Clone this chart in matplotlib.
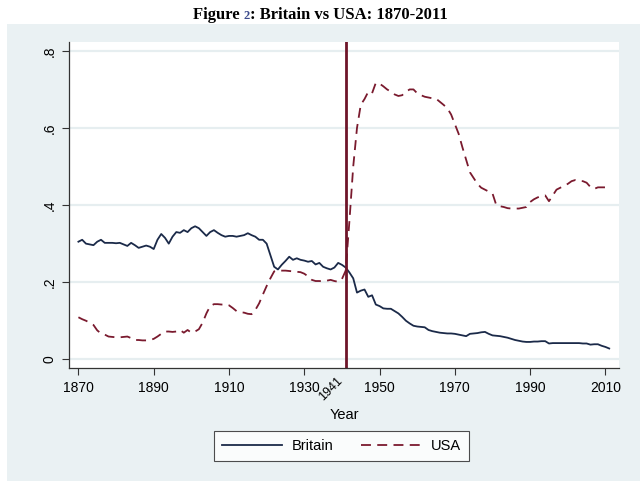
#!/usr/bin/python3
# coding: utf-8
'''
Britain vs USA: 1870-2011, Stata-style line chart with a marker at 1941
'''
import matplotlib
matplotlib.use('Agg')
import matplotlib.pyplot as plt
from matplotlib.patches import Rectangle
from matplotlib.transforms import blended_transform_factory

YEARS = list(range(1870, 2012))

BRITAIN = [
    .305, .310, .300, .298, .296, .305, .310, .302, .302, .302,   # 1870s
    .301, .302, .298, .294, .302, .296, .289, .292, .295, .292,   # 1880s
    .286, .310, .325, .315, .300, .318, .330, .328, .335, .330,   # 1890s
    .340, .345, .340, .330, .320, .330, .335, .328, .322, .318,   # 1900s
    .320, .320, .318, .320, .322, .327, .322, .318, .310, .310,   # 1910s
    .300, .270, .240, .233, .245, .255, .266, .258, .262, .258,   # 1920s
    .256, .253, .255, .246, .250, .240, .236, .233, .238, .250,   # 1930s
    .245, .238, .225, .210, .173, .178, .181, .162, .166, .142,   # 1940s
    .138, .132, .131, .131, .125, .119, .110, .100, .093, .087,   # 1950s
    .085, .084, .083, .076, .073, .071, .069, .068, .067, .067,   # 1960s
    .066, .064, .062, .060, .066, .067, .068, .070, .071, .066,   # 1970s
    .062, .061, .060, .058, .056, .053, .050, .048, .046, .045,   # 1980s
    .045, .046, .046, .047, .047, .041, .042, .042, .042, .042,   # 1990s
    .042, .042, .042, .042, .041, .041, .038, .039, .039, .035,   # 2000s
    .032, .028,                                                   # 2010-11
]

USA = [
    .109, .104, .100, .095, .089, .075, .067, .064, .059, .058,   # 1870s
    .057, .057, .058, .059, .055, .050, .050, .049, .049, .050,   # 1880s
    .053, .059, .066, .072, .072, .071, .072, .076, .069, .076,   # 1890s
    .069, .072, .078, .095, .119, .138, .143, .143, .142, .143,   # 1900s
    .140, .133, .125, .122, .121, .118, .117, .128, .145, .168,   # 1910s
    .190, .210, .228, .231, .230, .230, .229, .228, .227, .226,   # 1920s
    .222, .215, .206, .203, .203, .202, .204, .206, .203, .201,   # 1930s
    .208, .230, .360, .500, .600, .660, .675, .694, .690, .717,   # 1940s
    .715, .708, .700, .694, .687, .683, .685, .694, .700, .700,   # 1950s
    .690, .685, .681, .679, .677, .676, .668, .660, .651, .635,   # 1960s
    .610, .585, .550, .517, .485, .470, .455, .445, .440, .435,   # 1970s
    .430, .400, .397, .395, .392, .391, .391, .391, .393, .395,   # 1980s
    .408, .415, .420, .423, .425, .410, .425, .440, .445, .450,   # 1990s
    .455, .462, .465, .463, .462, .458, .447, .442, .446, .446,   # 2000s
    .446, .446,                                                   # 2010-11
]

X_TICKS = [1870, 1890, 1910, 1930, 1950, 1970, 1990, 2010]
Y_TICKS = [0, .2, .4, .6, .8]
Y_TICK_LABELS = ['0', '.2', '.4', '.6', '.8']
BREAK_YEAR = 1941

BG = '#eaf1f3'
NAVY = '#1b2a49'
MAROON = '#7a1a2e'
SANS = 'Liberation Sans'

fig = plt.figure(figsize=(6.4, 4.87), dpi=100)
fig.patch.set_facecolor('white')
fig.patches.append(Rectangle((7 / 640, 6 / 487), 633 / 640, 457 / 487,
                             transform=fig.transFigure, facecolor=BG,
                             edgecolor='none', zorder=-5))

ax = fig.add_axes([69 / 640, 119 / 487, 550 / 640, 326 / 487])
ax.set_facecolor('white')

for y in Y_TICKS:
    ax.axhline(y, color='#e6eef0', lw=1.6, zorder=0)

ax.plot(YEARS, BRITAIN, color=NAVY, lw=1.3, label='Britain')
ax.plot(YEARS, USA, color=MAROON, lw=1.3, dashes=(5.5, 3.5), label='USA')
ax.axvline(BREAK_YEAR, color='#6e1529', lw=2)

ax.set_xlim(1867.5, 2013.6)
ax.set_ylim(-0.0226, 0.823)
ax.set_xticks(X_TICKS)
ax.set_yticks(Y_TICKS)
ax.set_yticklabels(Y_TICK_LABELS, rotation=90, va='center')
ax.tick_params(axis='both', direction='out', length=5, width=0.8,
               color='#333333', labelsize=10, pad=4)
for lab in ax.get_xticklabels() + ax.get_yticklabels():
    lab.set_family(SANS)

for side in ('top', 'right'):
    ax.spines[side].set_visible(False)
for side in ('left', 'bottom'):
    ax.spines[side].set_color('#333333')
    ax.spines[side].set_linewidth(0.9)

## Extra rotated label for the break year
trans = blended_transform_factory(ax.transData, ax.transAxes)
ax.text(BREAK_YEAR - 0.3, -0.021, str(BREAK_YEAR), transform=trans,
        rotation=45, ha='right', va='top', fontsize=9, family=SANS)

ax.set_xlabel('Year', family=SANS, fontsize=10.5, labelpad=10)

leg = fig.legend(loc='center', bbox_to_anchor=(341.5 / 640, 41 / 487),
                 ncol=2, frameon=True, fancybox=False, handlelength=4.1,
                 columnspacing=1.9, borderpad=0.55, borderaxespad=0,
                 handletextpad=0.7, prop={'family': SANS, 'size': 10.5})
leg.get_frame().set_edgecolor('#222222')
leg.get_frame().set_linewidth(0.8)

## Title with the small coloured figure number
fig.canvas.draw()
renderer = fig.canvas.get_renderer()
title_y = 1 - 19 / 487
parts = [('Figure ', 12, 'black'), ('2', 9, '#3b4a8c'),
         (': Britain vs USA: 1870-2011', 12, 'black')]
texts = []
for s, size, col in parts:
    texts.append(fig.text(0, title_y, s, fontsize=size, color=col,
                          family='Liberation Serif', weight='bold',
                          va='baseline', ha='left'))
widths = [t.get_window_extent(renderer).width for t in texts]
x = (640 - sum(widths)) / 2
for t, w in zip(texts, widths):
    t.set_x(x / 640)
    x += w

fig.savefig('out.png', dpi=100, facecolor='white')
